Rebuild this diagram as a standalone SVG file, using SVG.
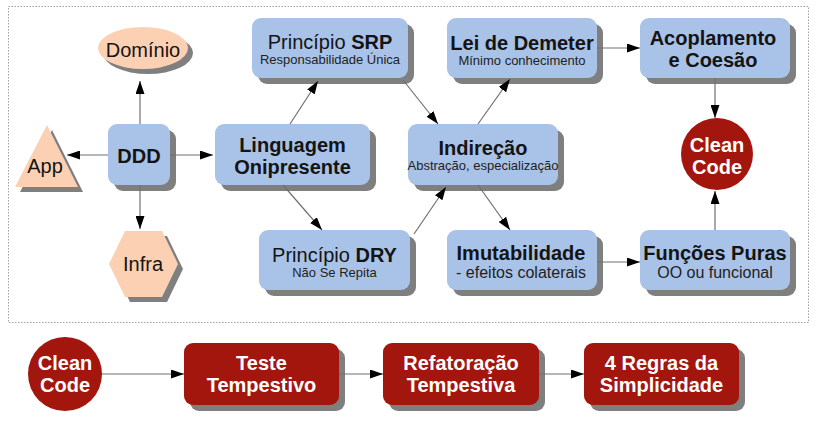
<svg xmlns="http://www.w3.org/2000/svg" width="818" height="432" viewBox="0 0 818 432">
<defs>
<style>
text{font-family:"Liberation Sans",Arial,sans-serif;text-anchor:middle;fill:#141414}
.b{font-weight:bold;font-size:20px}
.r{font-size:20px}
.s{font-size:13px;fill:#222}
.m{font-size:16px;fill:#222}
.w{fill:#fff;font-weight:bold;font-size:20px}
.box{fill:#a9c2e7}
.peach{fill:#fcd1b3}
.red{fill:#a3160e}
.sh{fill:#7f7f7f}
.con line{stroke:#707070;stroke-width:1.2;fill:none;marker-end:url(#ah)}
</style>
<marker id="ah" viewBox="0 0 13 9" refX="13" refY="4.5" markerWidth="13" markerHeight="9" markerUnits="userSpaceOnUse" orient="auto">
<path d="M0,0 L13,4.5 L0,9 z" fill="#000"/>
</marker>
</defs>
<rect width="818" height="432" fill="#fff"/>
<rect x="8.5" y="6.5" width="800" height="316" fill="none" stroke="#a0a0a0" stroke-width="1" stroke-dasharray="1.5,1.5"/>

<g id="dominio">
<ellipse cx="148" cy="53" rx="45" ry="21" class="sh"/>
<ellipse cx="143" cy="48" rx="45" ry="21" class="peach"/>
<text x="143" y="57" class="r">Domínio</text>
</g>
<g id="app">
<polygon points="52,130 20,192 83,192" class="sh"/>
<polygon points="47,125 15,187 78,187" class="peach"/>
<text x="45" y="173" class="r">App</text>
</g>
<g id="infra">
<polygon points="114,269 130,236 167,236 183,269 167,302 130,302" class="sh"/>
<polygon points="109,264 125,231 162,231 178,264 162,297 125,297" class="peach"/>
<text x="143" y="271" class="r">Infra</text>
</g>
<g id="ddd">
<rect x="114" y="130" width="62" height="61" rx="9" class="sh"/>
<rect x="108" y="124" width="62" height="61" rx="9" class="box"/>
<text x="139" y="163" class="b">DDD</text>
</g>
<g id="linguagem">
<rect x="221" y="130" width="155" height="61" rx="9" class="sh"/>
<rect x="215" y="124" width="155" height="61" rx="9" class="box"/>
<text x="292.5" y="152" class="b">Linguagem</text>
<text x="292.5" y="174" class="b">Onipresente</text>
</g>
<g id="srp">
<rect x="258" y="24" width="156" height="60" rx="9" class="sh"/>
<rect x="252" y="18" width="156" height="60" rx="9" class="box"/>
<text x="330" y="49" class="r">Princípio <tspan font-weight="bold">SRP</tspan></text>
<text x="330" y="64" class="s">Responsabilidade Única</text>
</g>
<g id="dry">
<rect x="265" y="236" width="151" height="60" rx="9" class="sh"/>
<rect x="259" y="230" width="151" height="60" rx="9" class="box"/>
<text x="334.5" y="262" class="r">Princípio <tspan font-weight="bold">DRY</tspan></text>
<text x="334.5" y="277" class="s">Não Se Repita</text>
</g>
<g id="indirecao">
<rect x="414" y="130" width="150" height="61" rx="9" class="sh"/>
<rect x="408" y="124" width="150" height="61" rx="9" class="box"/>
<text x="483" y="155" class="b">Indireção</text>
<text x="483" y="170" class="s">Abstração, especialização</text>
</g>
<g id="demeter">
<rect x="453" y="24" width="150" height="60" rx="9" class="sh"/>
<rect x="447" y="18" width="150" height="60" rx="9" class="box"/>
<text x="522" y="50" class="b">Lei de Demeter</text>
<text x="522" y="65" class="s">Mínimo conhecimento</text>
</g>
<g id="imutabilidade">
<rect x="453" y="236" width="150" height="60" rx="9" class="sh"/>
<rect x="447" y="230" width="150" height="60" rx="9" class="box"/>
<text x="521" y="260" class="b">Imutabilidade</text>
<text x="521" y="278" class="m">- efeitos colaterais</text>
</g>
<g id="acoplamento">
<rect x="646" y="24" width="150" height="60" rx="9" class="sh"/>
<rect x="640" y="18" width="150" height="60" rx="9" class="box"/>
<text x="713" y="45" class="b">Acoplamento</text>
<text x="713" y="67" class="b">e Coesão</text>
</g>
<g id="funcoes">
<rect x="646" y="236" width="150" height="60" rx="9" class="sh"/>
<rect x="640" y="230" width="150" height="60" rx="9" class="box"/>
<text x="715" y="260" class="b">Funções Puras</text>
<text x="715" y="278" class="m">OO ou funcional</text>
</g>
<g id="cleancode1">
<circle cx="717" cy="154" r="36" class="red"/>
<text x="717" y="152" class="w">Clean</text>
<text x="717" y="174" class="w">Code</text>
</g>

<g id="cleancode2">
<circle cx="65" cy="374" r="37" class="red"/>
<text x="65" y="370" class="w">Clean</text>
<text x="65" y="392" class="w">Code</text>
</g>
<g id="teste">
<rect x="190" y="349" width="155" height="62" rx="9" class="sh"/>
<rect x="184" y="343" width="155" height="62" rx="9" class="red"/>
<text x="261.5" y="370" class="w">Teste</text>
<text x="261.5" y="392" class="w">Tempestivo</text>
</g>
<g id="refatoracao">
<rect x="389" y="349" width="156" height="62" rx="9" class="sh"/>
<rect x="383" y="343" width="156" height="62" rx="9" class="red"/>
<text x="461" y="370" class="w">Refatoração</text>
<text x="461" y="392" class="w">Tempestiva</text>
</g>
<g id="regras">
<rect x="590" y="349" width="155" height="62" rx="9" class="sh"/>
<rect x="584" y="343" width="155" height="62" rx="9" class="red"/>
<text x="661.5" y="370" class="w">4 Regras da</text>
<text x="661.5" y="392" class="w">Simplicidade</text>
</g>

<g id="connectors" class="con">
<line x1="140" y1="124" x2="140" y2="81"/>
<line x1="108" y1="155" x2="67" y2="155"/>
<line x1="140" y1="185" x2="140" y2="229"/>
<line x1="170" y1="155" x2="213" y2="155"/>
<line x1="290" y1="124" x2="318" y2="81"/>
<line x1="283" y1="185" x2="322" y2="230"/>
<line x1="403" y1="80" x2="438" y2="124"/>
<line x1="478" y1="124" x2="510" y2="79"/>
<line x1="414" y1="234" x2="446" y2="187"/>
<line x1="478" y1="185" x2="510" y2="230"/>
<line x1="597" y1="48" x2="640" y2="48"/>
<line x1="715" y1="78" x2="715" y2="118"/>
<line x1="715" y1="230" x2="715" y2="191"/>
<line x1="597" y1="262" x2="640" y2="262"/>
<line x1="102" y1="374" x2="184" y2="374"/>
<line x1="339" y1="374" x2="383" y2="374"/>
<line x1="539" y1="374" x2="584" y2="374"/>
</g>
</svg>
